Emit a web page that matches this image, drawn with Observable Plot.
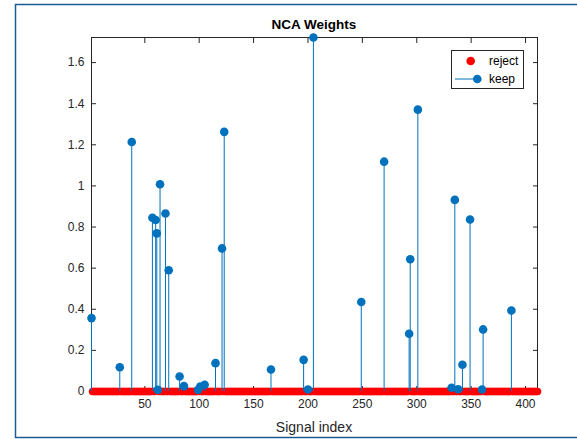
<!DOCTYPE html>
<html>
<head>
<meta charset="utf-8">
<script src="https://cdn.jsdelivr.net/npm/d3@7"></script>
<script src="https://cdn.jsdelivr.net/npm/@observablehq/plot@0.6"></script>
<style>
  html, body { margin: 0; padding: 0; background: #ffffff; }
  #chart { position: relative; width: 577px; height: 439px; overflow: hidden; }
</style>
</head>
<body>
<div id="chart"></div>
<script>
// ---- data ----
const nFeatures = 411;
const keepIdx = [1, 27, 38, 57, 60, 61, 62, 64, 69, 72, 82, 86, 99, 101, 105, 115, 121, 123,
  166, 196, 200, 205, 249, 270, 293, 294, 301, 332, 335, 338, 342, 349, 360, 361, 387];
const keepW = [0.357, 0.118, 1.214, 0.845, 0.834, 0.769, 0.008, 1.008, 0.866, 0.590, 0.073, 0.026,
  0.008, 0.024, 0.033, 0.138, 0.696, 1.263, 0.107, 0.154, 0.010, 1.722, 0.435, 1.118, 0.281, 0.643,
  1.371, 0.018, 0.932, 0.011, 0.130, 0.837, 0.010, 0.302, 0.394];
// every other signal index is rejected with weight 0
const rejectIdx = d3.range(1, nFeatures + 1).filter(i => !keepIdx.includes(i));
const rejectW = rejectIdx.map(() => 0);

const xTicks = [50, 100, 150, 200, 250, 300, 350, 400];
const yTicks = [0, 0.2, 0.4, 0.6, 0.8, 1, 1.2, 1.4, 1.6];
const yTickLabels = ["0", "0.2", "0.4", "0.6", "0.8", "1", "1.2", "1.4", "1.6"];
const titleText = "NCA Weights";
const xLabelText = "Signal index";
const legendLabels = ["reject", "keep"];

const keep = keepIdx.map((x, i) => ({x, w: keepW[i]}));
const reject = rejectIdx.map((x, i) => ({x, w: rejectW[i]}));

const blue = "#0072BD", red = "#FF0000", axisColor = "#262626";

const plot = Plot.plot({
  width: 577,
  height: 439,
  marginLeft: 91,
  marginRight: 40,
  marginTop: 37,
  marginBottom: 48,
  style: {background: "#ffffff", fontFamily: "'Liberation Sans', Arial, sans-serif", fontSize: "12px", color: axisColor},
  x: {domain: [1, nFeatures]},
  y: {domain: [0, 1.722]},
  marks: [
    Plot.frame({stroke: axisColor, strokeWidth: 1}),
    Plot.axisX({ticks: xTicks, tickSize: -5, tickPadding: 13, label: null, stroke: axisColor, fill: axisColor}),
    Plot.axisX({anchor: "top", ticks: xTicks, tickSize: -5, tickFormat: () => "", label: null, stroke: axisColor}),
    Plot.axisY({ticks: yTicks, tickSize: -5, tickPadding: 12, label: null,
      tickFormat: d => yTickLabels[yTicks.indexOf(d)], stroke: axisColor, fill: axisColor}),
    Plot.axisY({anchor: "right", ticks: yTicks, tickSize: -5, tickFormat: () => "", label: null, stroke: axisColor}),
    Plot.dot(reject, {x: "x", y: "w", r: 3.8, fill: red, stroke: "none"}),
    Plot.ruleX(keep, {x: "x", y1: 0, y2: "w", stroke: blue, strokeWidth: 1}),
    Plot.dot(keep, {x: "x", y: "w", r: 4.3, fill: blue, stroke: "none"})
  ]
});

document.getElementById("chart").appendChild(plot);

const svg = d3.select(plot);
// figure border
svg.append("rect").attr("x", 15.5).attr("y", 4.5).attr("width", 640).attr("height", 433)
  .attr("fill", "none").attr("stroke", "#1d5c93").attr("stroke-width", 1.5);
// title
svg.append("text").attr("x", 314).attr("y", 29).attr("text-anchor", "middle")
  .attr("font-size", 13.5).attr("font-weight", "bold").attr("fill", "#000").text(titleText);
// x label
svg.append("text").attr("x", 314).attr("y", 432).attr("text-anchor", "middle")
  .attr("font-size", 14).attr("fill", axisColor).text(xLabelText);
// legend
const lg = svg.append("g").attr("text-anchor", "start");
lg.append("rect").attr("x", 451.5).attr("y", 50.5).attr("width", 72).attr("height", 38)
  .attr("fill", "#fff").attr("stroke", axisColor).attr("stroke-width", 1);
lg.append("circle").attr("cx", 470.7).attr("cy", 61).attr("r", 4.3).attr("fill", red);
lg.append("text").attr("x", 489).attr("y", 65).attr("text-anchor", "start").attr("font-size", 12).attr("fill", "#000").text(legendLabels[0]);
lg.append("line").attr("x1", 455).attr("x2", 477).attr("y1", 79).attr("y2", 79).attr("stroke", blue).attr("stroke-width", 1);
lg.append("circle").attr("cx", 477.3).attr("cy", 79).attr("r", 4.3).attr("fill", blue);
lg.append("text").attr("x", 489).attr("y", 83).attr("text-anchor", "start").attr("font-size", 12).attr("fill", "#000").text(legendLabels[1]);
</script>
</body>
</html>
